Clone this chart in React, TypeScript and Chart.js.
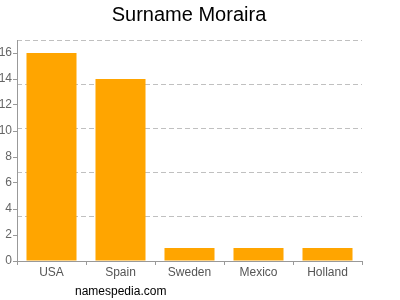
import React, { useEffect, useRef } from "react";
import { Chart, registerables } from "chart.js";

Chart.register(...registerables);

const categories = ["USA", "Spain", "Sweden", "Mexico", "Holland"];
const counts = [16, 14, 1, 1, 1];
const yTicks = [0, 2, 4, 6, 8, 10, 12, 14, 16];
const gridValues = [3.4, 6.8, 10.2, 13.6, 17];
const yMax = 17;
const titleText = "Surname Moraira";
const footerText = "namespedia.com";

const FONT = "'Liberation Sans', Arial, Helvetica, sans-serif";

export default function App() {
  const ref = useRef<HTMLCanvasElement | null>(null);
  useEffect(() => {
    document.body.style.margin = "0";
    const textPlugin = {
      id: "texts",
      afterDraw(chart: any) {
        const ctx = chart.ctx;
        ctx.save();
        ctx.fillStyle = "#000";
        ctx.textBaseline = "middle";
        ctx.textAlign = "center";
        ctx.font = `20px ${FONT}`;
        ctx.fillText(titleText, 189, 15);
        ctx.textAlign = "left";
        ctx.font = `12px ${FONT}`;
        ctx.fillText(footerText, 75, 292);
        ctx.restore();
      },
    };
    const chart = new Chart(ref.current as HTMLCanvasElement, {
      type: "bar",
      data: {
        labels: categories,
        datasets: [
          {
            data: counts,
            backgroundColor: "#FFA500",
            borderWidth: 0,
            inflateAmount: 0,
            barPercentage: 0.725,
            categoryPercentage: 1,
          },
        ],
      },
      options: {
        animation: false,
        responsive: false,
        events: [],
        layout: { padding: { top: 40, left: 0, right: 38, bottom: 0 } },
        plugins: {
          legend: { display: false },
          tooltip: { enabled: false },
          title: { display: false },
        },
        scales: {
          x: {
            afterFit(scale: any) {
              scale.height = 39;
            },
            grid: {
              drawOnChartArea: false,
              drawTicks: true,
              tickLength: 4,
              color: "#999",
            },
            border: { display: true, color: "#999" },
            ticks: {
              color: "#555",
              font: { size: 12, family: FONT },
              padding: 0,
            },
          },
          y: {
            position: "left",
            min: 0,
            max: yMax,
            afterFit(scale: any) {
              scale.width = 17;
            },
            afterBuildTicks(scale: any) {
              scale.ticks = yTicks.map((v) => ({ value: v }));
            },
            grid: {
              drawOnChartArea: false,
              drawTicks: true,
              tickLength: 4,
              color: "#999",
            },
            border: { display: true, color: "#999" },
            ticks: {
              color: "#666",
              font: { size: 12, family: FONT },
              padding: 1,
            },
          },
          y2: {
            position: "left",
            min: 0,
            max: yMax,
            afterFit(scale: any) {
              scale.width = 0;
            },
            afterBuildTicks(scale: any) {
              scale.ticks = gridValues.map((v) => ({ value: v }));
            },
            grid: {
              drawOnChartArea: true,
              drawTicks: false,
              color: "#c0c0c0",
              lineWidth: 1,
            },
            border: { display: false, dash: [5, 3] },
            ticks: { display: false },
          },
        },
      } as any,
      plugins: [textPlugin],
    });
    return () => chart.destroy();
  }, []);
  return (
    <div style={{ position: "absolute", left: 0, top: 0, width: 400, height: 300 }}>
      <canvas ref={ref} width={400} height={300} style={{ width: 400, height: 300 }} />
    </div>
  );
}
